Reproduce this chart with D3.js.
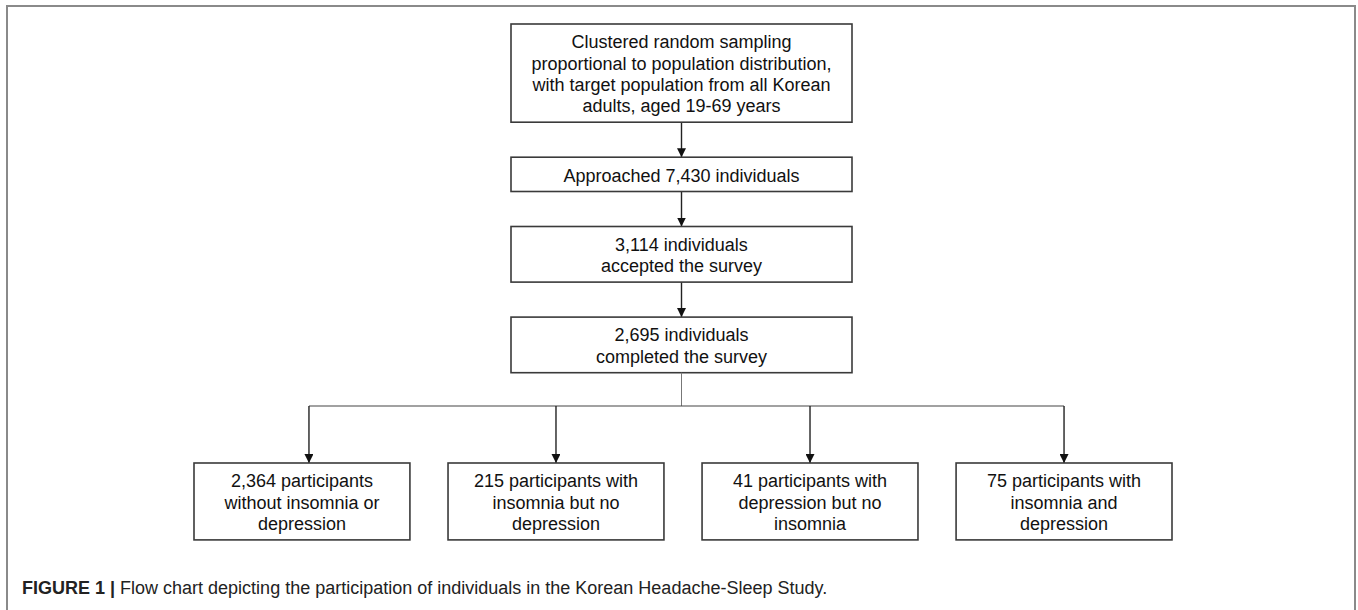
<!DOCTYPE html>
<html>
<head>
<meta charset="utf-8">
<script src="https://cdn.jsdelivr.net/npm/d3@7"></script>
<style>
  body { margin: 0; background: #fff; }
  svg text { font-family: "Liberation Sans", Arial, Helvetica, sans-serif; }
</style>
</head>
<body>
<script>
// flow stages (main column), one array of lines per box
const stageLines = [
  ["Clustered random sampling", "proportional to population distribution,", "with target population from all Korean", "adults, aged 19-69 years"],
  ["Approached 7,430 individuals"],
  ["3,114 individuals", "accepted the survey"],
  ["2,695 individuals", "completed the survey"]
];

// final groups
const groupCounts = [2364, 215, 41, 75];
const groupLines = [
  ["participants", "without insomnia or", "depression"],
  ["participants with", "insomnia but no", "depression"],
  ["participants with", "depression but no", "insomnia"],
  ["participants with", "insomnia and", "depression"]
];

const captionLabel = "FIGURE 1 |";
const captionText = "Flow chart depicting the participation of individuals in the Korean Headache-Sleep Study.";

const width = 1358, height = 610;
const lineH = 21.3, boxPad = 13, gap = 35;
const fmt = d3.format(",");

const svg = d3.select("body").append("svg")
    .attr("width", width).attr("height", height);

svg.append("defs").append("marker")
    .attr("id", "arrow")
    .attr("viewBox", "0 0 10 10")
    .attr("refX", 10).attr("refY", 5)
    .attr("markerUnits", "userSpaceOnUse")
    .attr("markerWidth", 9).attr("markerHeight", 9)
    .attr("orient", "auto")
  .append("path")
    .attr("d", "M0,0L10,5L0,10Z")
    .attr("fill", "#111");

// outer frame (bottom edge falls off the picture)
svg.append("path")
    .attr("d", `M7,${height}V6H1355V${height}`)
    .attr("fill", "none")
    .attr("stroke", "#8a8a8a")
    .attr("stroke-width", 2);

// stack main stages
const mainX = d3.scaleLinear().domain([0, 1]).range([511, 852]);
let yCursor = 24;
const stages = stageLines.map(lines => {
  const h = lines.length * lineH + boxPad;
  const s = { lines, y: yCursor, h };
  yCursor += h + gap;
  return s;
});

const groups = groupCounts.map((c, i) => ({
  lines: [fmt(c) + " " + groupLines[i][0], ...groupLines[i].slice(1)],
  i
}));

const groupX = d3.scaleBand()
    .domain(d3.range(groups.length))
    .range([194, 1172])
    .paddingInner(0.15);

const lastStage = stages[stages.length - 1];
const branchY = 406;
const groupTop = 463;
const groupH = 3 * lineH + boxPad;

function drawBox(g, x, y, w, h, lines) {
  g.append("rect")
      .attr("x", x).attr("y", y)
      .attr("width", w).attr("height", h)
      .attr("fill", "#fff")
      .attr("stroke", "#3a3a3a")
      .attr("stroke-width", 1.6);
  const top = y + (h - lines.length * lineH) / 2;
  g.append("text")
      .attr("text-anchor", "middle")
      .attr("font-size", 18)
      .attr("fill", "#111")
    .selectAll("tspan")
    .data(lines)
    .join("tspan")
      .attr("x", x + w / 2)
      .attr("y", (d, i) => top + lineH * i + lineH * 0.84)
      .text(d => d);
}

const flow = svg.append("g");

// arrows between main stages
const cx = (mainX(0) + mainX(1)) / 2;
stages.slice(1).forEach((s, i) => {
  const prev = stages[i];
  flow.append("line")
      .attr("x1", cx).attr("x2", cx)
      .attr("y1", prev.y + prev.h).attr("y2", s.y)
      .attr("stroke", "#222").attr("stroke-width", 1.4)
      .attr("marker-end", "url(#arrow)");
});

stages.forEach(s => drawBox(flow, mainX(0), s.y, mainX(1) - mainX(0), s.h, s.lines));

// branch to groups
const armX = d => groupX(d.i) + groupX.bandwidth() / 2 + (d.i === 0 ? 7 : 0);
flow.append("line")
    .attr("x1", cx).attr("x2", cx)
    .attr("y1", lastStage.y + lastStage.h).attr("y2", branchY)
    .attr("stroke", "#777").attr("stroke-width", 1);
flow.append("line")
    .attr("x1", armX(groups[0])).attr("x2", armX(groups[groups.length - 1]))
    .attr("y1", branchY).attr("y2", branchY)
    .attr("stroke", "#444").attr("stroke-width", 1.2);

flow.selectAll(".arm")
  .data(groups)
  .join("line")
    .attr("class", "arm")
    .attr("x1", armX).attr("x2", armX)
    .attr("y1", branchY).attr("y2", groupTop)
    .attr("stroke", "#222").attr("stroke-width", 1.4)
    .attr("marker-end", "url(#arrow)");

groups.forEach(d => drawBox(flow, groupX(d.i), groupTop, groupX.bandwidth(), groupH, d.lines));

// caption
const cap = svg.append("text")
    .attr("x", 22).attr("y", 594)
    .attr("font-size", 18)
    .attr("fill", "#222");
cap.append("tspan").attr("font-weight", "bold").text(captionLabel);
cap.append("tspan").text(" " + captionText);
</script>
</body>
</html>
